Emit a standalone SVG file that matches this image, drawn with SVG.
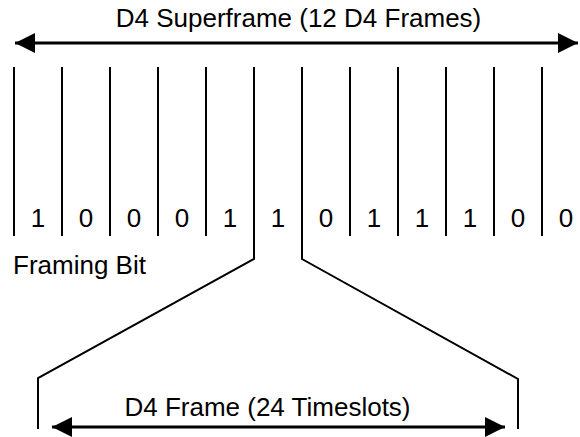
<svg xmlns="http://www.w3.org/2000/svg" width="580" height="437" viewBox="0 0 580 437">
<style>
  text { font-family: "Liberation Sans", Arial, sans-serif; fill: #000; }
  .t { font-size: 26px; }
  .d { font-size: 26px; text-anchor: middle; }
  .ln { stroke: #000; stroke-width: 2; fill: none; }
  .ar { stroke: #000; stroke-width: 3; fill: none; }
</style>
<defs>
  <marker id="ah" viewBox="0 0 20 20" refX="20" refY="10" markerWidth="20" markerHeight="20" markerUnits="userSpaceOnUse" orient="auto-start-reverse">
    <path d="M0,0 L20,10 L0,20 Z" fill="#000"/>
  </marker>
</defs>
<g id="superframe">
  <text class="t" x="298.5" y="27" text-anchor="middle">D4 Superframe (12 D4 Frames)</text>
</g>
<g id="frames">
  <line class="ln" x1="14" y1="67" x2="14" y2="236"/>
  <line class="ln" x1="62" y1="67" x2="62" y2="236"/>
  <line class="ln" x1="110" y1="67" x2="110" y2="236"/>
  <line class="ln" x1="158" y1="67" x2="158" y2="236"/>
  <line class="ln" x1="206" y1="67" x2="206" y2="236"/>
  <line class="ln" x1="350" y1="67" x2="350" y2="236"/>
  <line class="ln" x1="398" y1="67" x2="398" y2="236"/>
  <line class="ln" x1="446" y1="67" x2="446" y2="236"/>
  <line class="ln" x1="494" y1="67" x2="494" y2="236"/>
  <line class="ln" x1="542" y1="67" x2="542" y2="236"/>
  <text class="d" x="38" y="227">1</text>
  <text class="d" x="86" y="227">0</text>
  <text class="d" x="134" y="227">0</text>
  <text class="d" x="182" y="227">0</text>
  <text class="d" x="230" y="227">1</text>
  <text class="d" x="278" y="227">1</text>
  <text class="d" x="326" y="227">0</text>
  <text class="d" x="374" y="227">1</text>
  <text class="d" x="422" y="227">1</text>
  <text class="d" x="470" y="227">1</text>
  <text class="d" x="518" y="227">0</text>
  <text class="d" x="566" y="227">0</text>
</g>
<g id="framing-bit">
  <text class="t" x="13" y="274">Framing Bit</text>
</g>
<g id="frame">
  <text class="t" x="267.5" y="416" text-anchor="middle">D4 Frame (24 Timeslots)</text>
</g>
<g id="connectors">
  <line class="ar" x1="15" y1="43" x2="578" y2="43" marker-start="url(#ah)" marker-end="url(#ah)"/>
  <polyline class="ln" points="254,67 254,259 38,378 38,429"/>
  <polyline class="ln" points="302,67 302,259 518,379 518,429"/>
  <line class="ar" x1="52" y1="427" x2="505" y2="427" marker-start="url(#ah)" marker-end="url(#ah)"/>
</g>
</svg>
